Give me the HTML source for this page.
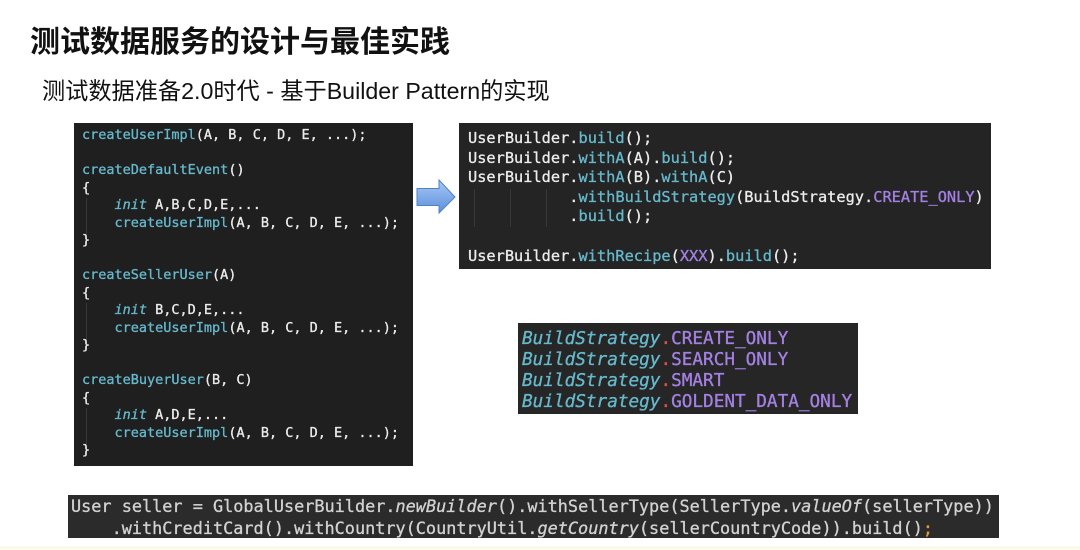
<!DOCTYPE html>
<html>
<head>
<meta charset="utf-8">
<style>
  html, body { margin:0; padding:0; }
  body { width:1080px; height:550px; position:relative; background:#ffffff; overflow:hidden; }
  .title { position:absolute; left:30px; top:23px; font-family:"Liberation Sans","Noto Sans CJK SC",sans-serif; font-weight:bold; font-size:30px; line-height:40px; color:#111; white-space:nowrap; }
  .sub { position:absolute; left:42px; top:75px; font-family:"Liberation Sans","Noto Sans CJK SC",sans-serif; font-size:23.2px; line-height:32px; color:#111; white-space:nowrap; }
  pre { margin:0; position:absolute; font-family:"DejaVu Sans Mono","Liberation Mono",monospace; white-space:pre; color:#ececec; box-sizing:border-box; -webkit-text-stroke:0.3px currentColor; }
  .t { color:#66b9cd; }
  .p { color:#a580e4; }
  .r { color:#e0504f; }
  .o { color:#e09a3a; }
  i { font-style:italic; }
  #b1 { left:74px; top:123px; width:339px; height:343px; background:#1f1f1f; font-size:13.5px; line-height:17.5px; padding:4px 0 0 8px; }
  #b2 { left:459px; top:123px; width:532px; height:146px; background:#242424; font-size:15.3px; line-height:19.6px; padding:6px 0 0 9px; }
  #b3 { left:518px; top:323px; width:340px; height:91px; background:#262626; font-size:17.7px; line-height:21px; padding:6px 0 0 4px; }
  #b4 { left:68px; top:495px; width:931px; height:43px; background:#2b2b2b; font-size:16.85px; line-height:22px; padding:0 0 0 3px; color:#d2d2d2; }
  .strip { position:absolute; left:0; top:546px; width:1080px; height:4px; background:#fdf8ec; }
  .guide { position:absolute; width:1px; background:#383838; }
</style>
</head>
<body>
<div class="title">测试数据服务的设计与最佳实践</div>
<div class="sub">测试数据准备2.0时代 - 基于Builder Pattern的实现</div>

<pre id="b1"><span class="t">createUserImpl</span>(A, B, C, D, E, ...);

<span class="t">createDefaultEvent</span>()
{
    <i class="t">init</i> A,B,C,D,E,...
    <span class="t">createUserImpl</span>(A, B, C, D, E, ...);
}

<span class="t">createSellerUser</span>(A)
{
    <i class="t">init</i> B,C,D,E,...
    <span class="t">createUserImpl</span>(A, B, C, D, E, ...);
}

<span class="t">createBuyerUser</span>(B, C)
{
    <i class="t">init</i> A,D,E,...
    <span class="t">createUserImpl</span>(A, B, C, D, E, ...);
}</pre>
<div class="guide" style="left:86px;top:198px;height:36px;"></div>
<div class="guide" style="left:86px;top:303px;height:36px;"></div>
<div class="guide" style="left:86px;top:408px;height:36px;"></div>

<svg style="position:absolute;left:0;top:0" width="1080" height="550">
  <defs>
    <linearGradient id="ag" x1="0" y1="0" x2="0" y2="1">
      <stop offset="0" stop-color="#a9c8f5"/>
      <stop offset="1" stop-color="#5b8fdc"/>
    </linearGradient>
  </defs>
  <polygon points="417,188.5 439,188.5 439,180 455,197 439,213 439,205.5 417,205.5" fill="url(#ag)" stroke="#4f80c8" stroke-width="1"/>
</svg>

<pre id="b2">UserBuilder.<span class="t">build</span>();
UserBuilder.<span class="t">withA</span>(A).<span class="t">build</span>();
UserBuilder.<span class="t">withA</span>(B).<span class="t">withA</span>(C)
           .<span class="t">withBuildStrategy</span>(BuildStrategy.<span class="p">CREATE_ONLY</span>)
           .<span class="t">build</span>();

UserBuilder.<span class="t">withRecipe</span>(<span class="p">XXX</span>).<span class="t">build</span>();</pre>
<div class="guide" style="left:474px;top:189px;height:38px;"></div>
<div class="guide" style="left:510px;top:189px;height:38px;"></div>
<div class="guide" style="left:546px;top:189px;height:38px;"></div>

<pre id="b3"><i class="t">BuildStrategy</i><span class="r">.</span><span class="p">CREATE_ONLY</span>
<i class="t">BuildStrategy</i><span class="r">.</span><span class="p">SEARCH_ONLY</span>
<i class="t">BuildStrategy</i><span class="r">.</span><span class="p">SMART</span>
<i class="t">BuildStrategy</i><span class="r">.</span><span class="p">GOLDENT_DATA_ONLY</span></pre>

<pre id="b4">User seller = GlobalUserBuilder.<i>newBuilder</i>().withSellerType(SellerType.<i>valueOf</i>(sellerType))
    .withCreditCard().withCountry(CountryUtil.<i>getCountry</i>(sellerCountryCode)).build()<span class="o">;</span></pre>

<div class="strip"></div>
</body>
</html>
